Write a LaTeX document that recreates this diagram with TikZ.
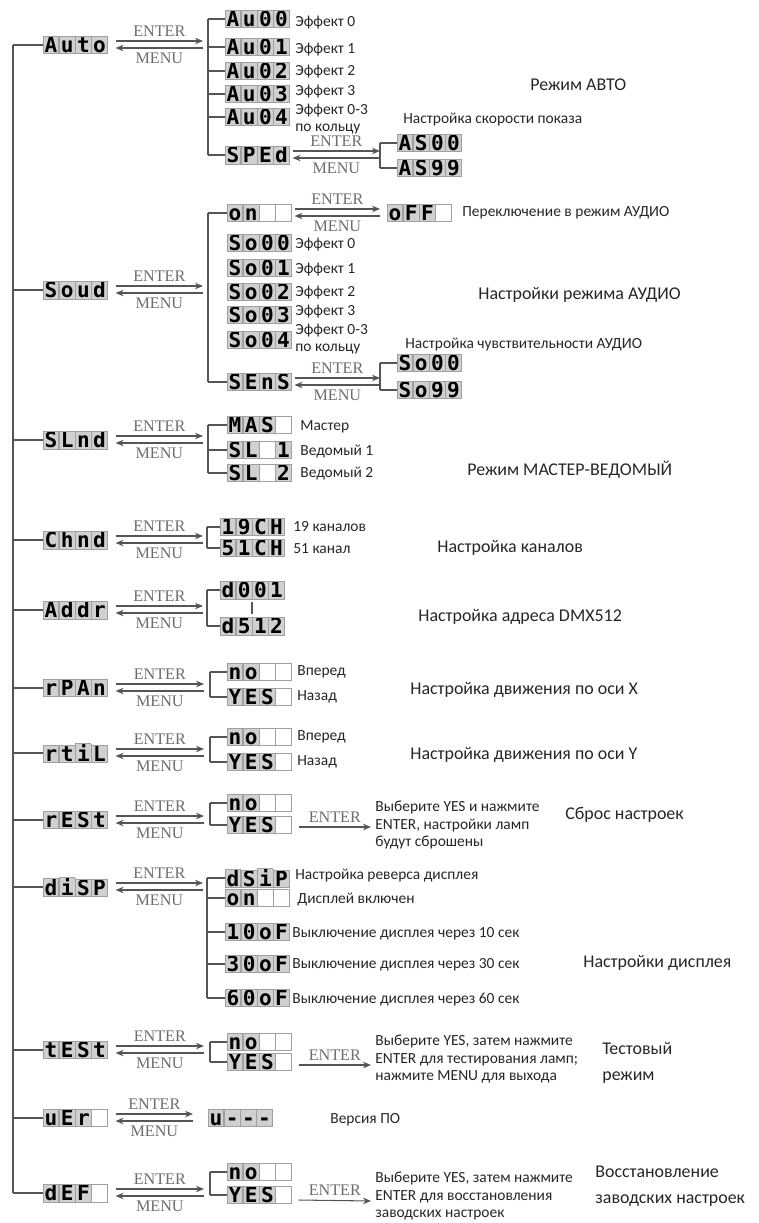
\documentclass[tikz,border=0pt]{standalone}
\usepackage{fontspec}
\setmainfont{Carlito}
\newfontfamily\segfont{DejaVu Sans Mono}
\newfontfamily\keyfont{Liberation Serif}
\usetikzlibrary{arrows.meta,calc}
\definecolor{mnuLine}{HTML}{555555}
\definecolor{mnuKey}{HTML}{6C6C6C}
\definecolor{mnuCell}{HTML}{D0D0D0}
\definecolor{mnuEdge}{HTML}{A0A0A0}
\definecolor{mnuText}{HTML}{262626}
\setlength{\fboxsep}{0pt}
\setlength{\fboxrule}{0.4pt}
\newcommand{\dcell}[1]{\fcolorbox{mnuEdge}{mnuCell}{\makebox[0.295cm]{\rule[-0.02cm]{0pt}{0.335cm}#1}}}
\newcommand{\dgap}{\fcolorbox{mnuEdge}{white}{\makebox[0.295cm]{\rule[-0.02cm]{0pt}{0.335cm}}}}
\tikzset{
  lcd/.style={anchor=west, inner sep=0pt, outer sep=0pt, font=\segfont\bfseries\fontsize{12}{12}\selectfont},
  tree/.style={draw=mnuLine, line width=0.85pt},
  key arrow/.style={draw=mnuLine, line width=0.6pt, -{Stealth[length=1.6mm,width=1.3mm]}},
  key label/.style={font=\keyfont\fontsize{9.2}{9.2}\selectfont, text=mnuKey, inner sep=1pt},
  note/.style={anchor=west, inner sep=0pt, align=left, text=mnuText, font=\fontsize{8.8}{10}\selectfont},
  title/.style={anchor=west, inner sep=0pt, align=left, text=mnuText, font=\fontsize{10.2}{15}\selectfont},
}
% ENTER / MENU pair: source node, target point, start gap, end gap
\newcommand{\keypair}[4]{%
  \draw[key arrow] ($(#1.east)+(#3,-4)$) -- ($(#2)+(-#4,-4)$)
    node[midway, above=1.5pt, key label] (#1-enter) {ENTER};
  \draw[key arrow] ($(#2)+(-#4,3)$) -- ($(#1.east)+(#3,3)$)
    node[midway, below=1.5pt, key label] (#1-menu) {MENU};
}

\begin{document}
\begin{tikzpicture}[x=0.02cm, y=-0.02cm]
  \useasboundingbox (0,0) rectangle (758,1223);

  % Auto mode
  \node[lcd] (auto) at (43,45) {\dcell{A}\dcell{u}\dcell{t}\dcell{o}};
  \coordinate (autoBr) at (208,45);
  \keypair{auto}{autoBr}{8}{5}
  \node[lcd] (au00) at (225,19) {\dcell{A}\dcell{u}\dcell{0}\dcell{0}};
  \node[lcd] (au01) at (225,47) {\dcell{A}\dcell{u}\dcell{0}\dcell{1}};
  \node[lcd] (au02) at (225,71) {\dcell{A}\dcell{u}\dcell{0}\dcell{2}};
  \node[lcd] (au03) at (225,94) {\dcell{A}\dcell{u}\dcell{0}\dcell{3}};
  \node[lcd] (au04) at (225,117) {\dcell{A}\dcell{u}\dcell{0}\dcell{4}};
  \node[lcd] (sped) at (225,155) {\dcell{S}\dcell{P}\dcell{E}\dcell{d}};
  \draw[tree] (autoBr |- au00) -- (autoBr |- sped);
  \foreach \n in {au00,au01,au02,au03,au04,sped}
    \draw[tree] (autoBr |- \n) -- (\n.west);
  \node[note] (au00n) at (295,23) {Эффект 0};
  \node[note] (au01n) at (295,50) {Эффект 1};
  \node[note] (au02n) at (295,72) {Эффект 2};
  \node[note] (au03n) at (295,92) {Эффект 3};
  \node[note] (au04n) at (295,119) {Эффект 0-3\\по кольцу};
  \coordinate (spedBr) at (380,155);
  \keypair{sped}{spedBr}{3}{0}
  \node[lcd] (as00) at (397,143) {\dcell{A}\dcell{S}\dcell{0}\dcell{0}};
  \node[lcd] (as99) at (397,168) {\dcell{A}\dcell{S}\dcell{9}\dcell{9}};
  \draw[tree] (spedBr |- as00) -- (spedBr |- as99);
  \foreach \n in {as00,as99}
    \draw[tree] (spedBr |- \n) -- (\n.west);
  \node[note] (spedn) at (403,120) {Настройка скорости показа};
  \node[title] (autot) at (530,85) {Режим АВТО};

  % Sound mode
  \node[lcd] (soud) at (43,290) {\dcell{S}\dcell{o}\dcell{u}\dcell{d}};
  \coordinate (soudBr) at (208,290);
  \keypair{soud}{soudBr}{8}{5}
  \node[lcd] (son) at (227,213) {\dcell{o}\dcell{n}\dgap\dgap};
  \node[lcd] (so00) at (227,243) {\dcell{S}\dcell{o}\dcell{0}\dcell{0}};
  \node[lcd] (so01) at (227,268) {\dcell{S}\dcell{o}\dcell{0}\dcell{1}};
  \node[lcd] (so02) at (227,292) {\dcell{S}\dcell{o}\dcell{0}\dcell{2}};
  \node[lcd] (so03) at (227,315) {\dcell{S}\dcell{o}\dcell{0}\dcell{3}};
  \node[lcd] (so04) at (227,340) {\dcell{S}\dcell{o}\dcell{0}\dcell{4}};
  \node[lcd] (sens) at (227,382) {\dcell{S}\dcell{E}\dcell{n}\dcell{S}};
  \draw[tree] (soudBr |- son) -- (soudBr |- sens);
  \foreach \n in {son,sens}
    \draw[tree] (soudBr |- \n) -- (\n.west);
  \node[lcd] (soff) at (387,213) {\dcell{o}\dcell{F}\dcell{F}\dgap};
  \keypair{son}{soff.west}{3}{7}
  \node[note] (soffn) at (462,213) {Переключение в режим АУДИО};
  \node[note] (so00n) at (295,245) {Эффект 0};
  \node[note] (so01n) at (295,270) {Эффект 1};
  \node[note] (so02n) at (295,293) {Эффект 2};
  \node[note] (so03n) at (295,312) {Эффект 3};
  \node[note] (so04n) at (295,339) {Эффект 0-3\\по кольцу};
  \coordinate (sensBr) at (380,382);
  \keypair{sens}{sensBr}{3}{0}
  \node[lcd] (se00) at (397,363) {\dcell{S}\dcell{o}\dcell{0}\dcell{0}};
  \node[lcd] (se99) at (397,390) {\dcell{S}\dcell{o}\dcell{9}\dcell{9}};
  \draw[tree] (sensBr |- se00) -- (sensBr |- se99);
  \foreach \n in {se00,se99}
    \draw[tree] (sensBr |- \n) -- (\n.west);
  \node[note] (sensn) at (405,345) {Настройка чувствительности АУДИО};
  \node[title] (soudt) at (478,295) {Настройки режима АУДИО};

  % Master / slave
  \node[lcd] (slnd) at (43,440) {\dcell{S}\dcell{L}\dcell{n}\dcell{d}};
  \coordinate (slndBr) at (208,440);
  \keypair{slnd}{slndBr}{8}{5}
  \node[lcd] (mas) at (227,425) {\dcell{M}\dcell{A}\dcell{S}\dgap};
  \node[lcd] (sl1) at (227,450) {\dcell{S}\dcell{L}\dgap\dcell{1}};
  \node[lcd] (sl2) at (227,473) {\dcell{S}\dcell{L}\dgap\dcell{2}};
  \draw[tree] (slndBr |- mas) -- (slndBr |- sl2);
  \foreach \n in {mas,sl1,sl2}
    \draw[tree] (slndBr |- \n) -- (\n.west);
  \node[note] (masn) at (300,427) {Мастер};
  \node[note] (sl1n) at (300,452) {Ведомый 1};
  \node[note] (sl2n) at (300,474) {Ведомый 2};
  \node[title] (slndt) at (467,470) {Режим МАСТЕР-ВЕДОМЫЙ};

  % Channels
  \node[lcd] (chnd) at (43,540) {\dcell{C}\dcell{h}\dcell{n}\dcell{d}};
  \coordinate (chndBr) at (207,540);
  \keypair{chnd}{chndBr}{8}{4}
  \node[lcd] (ch19) at (220,527) {\dcell{1}\dcell{9}\dcell{C}\dcell{H}};
  \node[lcd] (ch51) at (220,548) {\dcell{5}\dcell{1}\dcell{C}\dcell{H}};
  \draw[tree] (chndBr |- ch19) -- (chndBr |- ch51);
  \foreach \n in {ch19,ch51}
    \draw[tree] (chndBr |- \n) -- (\n.west);
  \node[note] (ch19n) at (293,527) {19 каналов};
  \node[note] (ch51n) at (293,549) {51 канал};
  \node[title] (chndt) at (437,548) {Настройка каналов};

  % DMX address
  \node[lcd] (addr) at (43,610) {\dcell{A}\dcell{d}\dcell{d}\dcell{r}};
  \coordinate (addrBr) at (207,610);
  \keypair{addr}{addrBr}{8}{4}
  \node[lcd] (d001) at (220,590) {\dcell{d}\dcell{0}\dcell{0}\dcell{1}};
  \node[lcd] (d512) at (220,626) {\dcell{d}\dcell{5}\dcell{1}\dcell{2}};
  \draw[tree] (addrBr |- d001) -- (addrBr |- d512);
  \foreach \n in {d001,d512}
    \draw[tree] (addrBr |- \n) -- (\n.west);
  \draw[tree, line width=1.4pt] ($(d001.south west)+(32,3)$) -- ($(d512.north west)+(32,-3)$);
  \node[title] (addrt) at (418,617) {Настройка адреса DMX512};

  % Pan reverse
  \node[lcd] (rpan) at (43,688) {\dcell{r}\dcell{P}\dcell{A}\dcell{n}};
  \coordinate (rpanBr) at (210,688);
  \keypair{rpan}{rpanBr}{8}{6}
  \node[lcd] (rpno) at (227,672) {\dcell{n}\dcell{o}\dgap\dgap};
  \node[lcd] (rpyes) at (227,697) {\dcell{Y}\dcell{E}\dcell{S}\dgap};
  \draw[tree] (rpanBr |- rpno) -- (rpanBr |- rpyes);
  \foreach \n in {rpno,rpyes}
    \draw[tree] (rpanBr |- \n) -- (\n.west);
  \node[note] (rpnon) at (297,672) {Вперед};
  \node[note] (rpyesn) at (297,697) {Назад};
  \node[title] (rpant) at (410,690) {Настройка движения по оси X};

  % Tilt reverse
  \node[lcd] (rtil) at (43,753) {\dcell{r}\dcell{t}\dcell{i}\dcell{L}};
  \coordinate (rtilBr) at (210,753);
  \keypair{rtil}{rtilBr}{8}{6}
  \node[lcd] (rtno) at (227,737) {\dcell{n}\dcell{o}\dgap\dgap};
  \node[lcd] (rtyes) at (227,762) {\dcell{Y}\dcell{E}\dcell{S}\dgap};
  \draw[tree] (rtilBr |- rtno) -- (rtilBr |- rtyes);
  \foreach \n in {rtno,rtyes}
    \draw[tree] (rtilBr |- \n) -- (\n.west);
  \node[note] (rtnon) at (297,737) {Вперед};
  \node[note] (rtyesn) at (297,762) {Назад};
  \node[title] (rtilt) at (410,755) {Настройка движения по оси Y};

  % Reset
  \node[lcd] (rest) at (43,820) {\dcell{r}\dcell{E}\dcell{S}\dcell{t}};
  \coordinate (restBr) at (210,820);
  \keypair{rest}{restBr}{8}{6}
  \node[lcd] (reno) at (227,803) {\dcell{n}\dcell{o}\dgap\dgap};
  \node[lcd] (reyes) at (227,825) {\dcell{Y}\dcell{E}\dcell{S}\dgap};
  \draw[tree] (restBr |- reno) -- (restBr |- reyes);
  \foreach \n in {reno,reyes}
    \draw[tree] (restBr |- \n) -- (\n.west);
  \node[note] (remsg) at (375,825) {Выберите YES и нажмите\\ENTER, настройки ламп\\будут сброшены};
  \draw[key arrow] ($(reyes.east)+(7,2)$) -- ($(remsg.west)+(-4,2)$)
    node[midway, above=1.5pt, key label] (reenter) {ENTER};
  \node[title] (restt) at (565,815) {Сброс настроек};

  % Display
  \node[lcd] (disp) at (43,887) {\dcell{d}\dcell{i}\dcell{S}\dcell{P}};
  \coordinate (dispBr) at (207,887);
  \keypair{disp}{dispBr}{8}{4}
  \node[lcd] (dsip) at (225,878) {\dcell{d}\dcell{S}\dcell{i}\dcell{P}};
  \node[lcd] (don) at (225,898) {\dcell{o}\dcell{n}\dgap\dgap};
  \node[lcd] (d10) at (225,932) {\dcell{1}\dcell{0}\dcell{o}\dcell{F}};
  \node[lcd] (d30) at (225,964) {\dcell{3}\dcell{0}\dcell{o}\dcell{F}};
  \node[lcd] (d60) at (225,998) {\dcell{6}\dcell{0}\dcell{o}\dcell{F}};
  \draw[tree] (dispBr |- dsip) -- (dispBr |- d60);
  \foreach \n in {dsip,don,d10,d30,d60}
    \draw[tree] (dispBr |- \n) -- (\n.west);
  \node[note] (dsipn) at (295,876) {Настройка реверса дисплея};
  \node[note] (donn) at (297,899) {Дисплей включен};
  \node[note] (d10n) at (292,934) {Выключение дисплея через 10 сек};
  \node[note] (d30n) at (292,965) {Выключение дисплея через 30 сек};
  \node[note] (d60n) at (292,1000) {Выключение дисплея через 60 сек};
  \node[title] (dispt) at (583,963) {Настройки дисплея};

  % Test
  \node[lcd] (test) at (43,1050) {\dcell{t}\dcell{E}\dcell{S}\dcell{t}};
  \coordinate (testBr) at (210,1050);
  \keypair{test}{testBr}{8}{6}
  \node[lcd] (teno) at (227,1042) {\dcell{n}\dcell{o}\dgap\dgap};
  \node[lcd] (teyes) at (227,1062) {\dcell{Y}\dcell{E}\dcell{S}\dgap};
  \draw[tree] (testBr |- teno) -- (testBr |- teyes);
  \foreach \n in {teno,teyes}
    \draw[tree] (testBr |- \n) -- (\n.west);
  \node[note] (temsg) at (375,1059) {Выберите YES, затем нажмите\\ENTER для тестирования ламп;\\нажмите MENU для выхода};
  \draw[key arrow] ($(teyes.east)+(7,3)$) -- ($(temsg.west)+(-4,6)$)
    node[midway, above=1.5pt, key label] (teenter) {ENTER};
  \node[title] (testt) at (602,1063) {Тестовый\\режим};

  % Version
  \node[lcd] (ver) at (43,1118) {\dcell{u}\dcell{E}\dcell{r}\dgap};
  \node[lcd] (vbox) at (208,1118) {\dcell{u}\dcell{-}\dcell{-}\dcell{-}};
  \keypair{ver}{vbox.west}{8}{15}
  \node[note] (vern) at (330,1120) {Версия ПО};

  % Factory defaults
  \node[lcd] (def) at (43,1193) {\dcell{d}\dcell{E}\dcell{F}\dgap};
  \coordinate (defBr) at (210,1193);
  \keypair{def}{defBr}{8}{6}
  \node[lcd] (deno) at (227,1172) {\dcell{n}\dcell{o}\dgap\dgap};
  \node[lcd] (deyes) at (227,1195) {\dcell{Y}\dcell{E}\dcell{S}\dgap};
  \draw[tree] (defBr |- deno) -- (defBr |- deyes);
  \foreach \n in {deno,deyes}
    \draw[tree] (defBr |- \n) -- (\n.west);
  \node[note] (demsg) at (375,1196) {Выберите YES, затем нажмите\\ENTER для восстановления\\заводских настроек};
  \draw[key arrow] ($(deyes.east)+(7,5)$) -- ($(demsg.west)+(-4,5)$)
    node[midway, above=1.5pt, key label] (deenter) {ENTER};
  \node[title] (deft) at (595,1186) {Восстановление\\заводских настроек};

  % Trunk of the main menu
  \coordinate (trunk) at (13,45);
  \draw[tree] (trunk |- auto) -- (trunk |- def);
  \foreach \n in {auto,soud,slnd,chnd,addr,rpan,rtil,rest,disp,test,ver,def}
    \draw[tree] (trunk |- \n) -- (\n.west);
\end{tikzpicture}
\end{document}
